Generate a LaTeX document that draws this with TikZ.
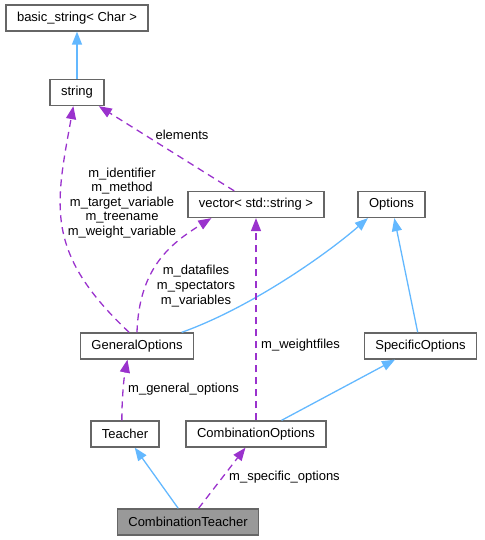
\documentclass[tikz,border=0pt]{standalone}
\usepackage{fontspec}
\setmainfont{Liberation Sans}
\usetikzlibrary{arrows.meta}
\definecolor{edgeblue}{HTML}{63B8FF}
\definecolor{edgepurple}{HTML}{9A32CD}
\definecolor{boxgray}{HTML}{666666}
\definecolor{mainfill}{HTML}{999999}

\begin{document}
\begin{tikzpicture}[x=1pt, y=1pt,
  cls/.style={draw=boxgray, line width=1.3pt, minimum height=26pt, inner xsep=11pt, inner ysep=0pt, font=\fontsize{13}{15}\selectfont},
  inherit/.style={-{Triangle[length=13pt,width=10pt]}, draw=edgeblue, line width=1.3pt},
  member/.style={-{Triangle[length=13pt,width=10pt]}, draw=edgepurple, line width=1.3pt, dash pattern=on 7pt off 5pt},
  lbl/.style={font=\fontsize{13}{14.6}\selectfont, inner sep=0pt, align=center}]
\useasboundingbox (0,0) rectangle (484,-540);

% classes
\node[cls] (bstr) at (77,-18) {basic\_string< Char >};
\node[cls] (str) at (77,-92.5) {string};
\node[cls] (vec) at (256,-204.5) {vector< std::string >};
\node[cls] (opt) at (391.5,-204.5) {Options};
\node[cls] (gen) at (137,-346) {GeneralOptions};
\node[cls] (spec) at (420.5,-346) {SpecificOptions};
\node[cls] (teach) at (125,-434) {Teacher};
\node[cls] (comb) at (256,-434) {CombinationOptions};
\node[cls, fill=mainfill] (ct) at (188,-522) {CombinationTeacher};

% inheritance
\draw[inherit] (str) -- (bstr);
\draw[inherit] (gen.17) .. controls +(70,25) and +(-40,-35) .. (opt.-150);
\draw[inherit] (spec) -- (opt);
\draw[inherit] (comb) -- (spec);
\draw[inherit] (ct) -- (teach);

% members
\draw[member] (gen.120) .. controls +(-85,80) and +(-18,-100) .. (str.-105);
\draw[member] (vec) -- (str);
\draw[member] (gen.north) .. controls +(2,65) and +(-40,-25) .. (vec.-163);
\draw[member] (comb) -- (vec);
\draw[member] (teach.103) .. controls +(0,25) and +(-3,-15) .. (gen.-125);
\draw[member] (ct) -- (comb);

% labels
\node[lbl] (lelem) at (182,-135) {elements};
\node[lbl] (lgenstr) at (122,-203) {m\_identifier\\m\_method\\m\_target\_variable\\m\_treename\\m\_weight\_variable};
\node[lbl] (lgenvec) at (196,-286) {m\_datafiles\\m\_spectators\\m\_variables};
\node[lbl, anchor=west] (lweight) at (261,-345) {m\_weightfiles};
\node[lbl, anchor=west] (lgen) at (128,-389) {m\_general\_options};
\node[lbl, anchor=west] (lspec) at (229,-477) {m\_specific\_options};
\end{tikzpicture}
\end{document}
